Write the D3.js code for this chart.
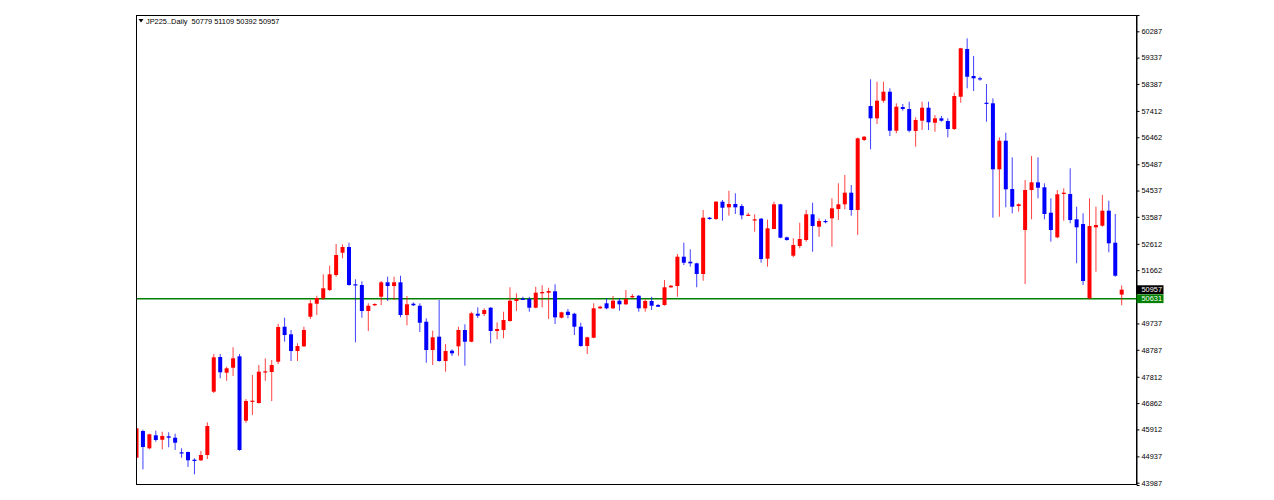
<!DOCTYPE html>
<html>
<head>
<meta charset="utf-8">
<script src="https://cdn.jsdelivr.net/npm/d3@7"></script>
<style>
  body { margin: 0; background: #fff; }
  svg { display: block; }
  text { font-family: "Liberation Sans", Arial, sans-serif; }
</style>
</head>
<body>
<div id="chart"></div>
<script>
// JP225 daily candles (oldest -> newest)
const symbolName = 'JP225..Daily';
const lastBar = [50779, 51109, 50392, 50957];
const levelPrice = 50631;

const opens = [44889,45854,45229,45698,45539,45662,45612,45084,45095,44817,44796,44987,47273,48526,47959,48139,48551,46226,46926,46865,
  47973,47984,48356,49620,49345,48742,48912,49981,50450,50645,50945,51487,52292,52498,51151,51126,50187,50393,50703,51223,
  51090,51223,50042,50450,50378,49800,48779,49259,48381,48753,48912,49501,49078,50089,50079,50306,49465,49501,49826,50548,
  50631,50620,50306,50826,50848,50898,49945,50161,50089,49620,48923,49223,50284,50465,50284,50559,50429,50681,50739,50284,
  50548,50403,50403,51043,51090,52148,51967,51909,51523,53556,53509,54134,53931,54051,53978,53643,53462,53520,52075,53148,
  54040,52848,52184,52534,52751,53679,53231,53437,53534,53870,54040,54459,53834,56362,57589,57145,57781,58106,56697,57553,
  57481,56687,57059,57528,56986,57145,57048,56759,57925,59648,58673,58590,57708,57687,55304,56336,54592,53978,53112,54556,
  54834,54654,53736,52848,54412,54412,53498,53328,50645,53209,53267,53809,52653,50779];
const highs = [46034,45900,45756,45864,45828,45807,45756,45229,45110,44868,45131,46168,48634,48634,48175,48876,48634,47009,47876,48237,
  48479,48417,49728,49945,49501,49020,49620,50584,50739,51512,51823,52606,52595,52653,51332,51259,50465,50465,51270,51425,
  51425,51461,50728,50501,50465,49923,49475,50584,48995,48804,49620,49706,50161,50320,50284,50330,49779,50161,51043,50826,
  50703,50703,51064,51115,51028,51151,50161,50259,50125,49764,49259,50465,50378,50645,50728,50645,50945,50801,50760,50620,
  50703,50440,51306,51126,52245,52653,52415,51930,53834,53581,54159,54195,54531,54437,54051,53736,53679,53545,53484,54134,
  54060,52870,52812,53375,53834,54097,53534,53498,54256,54798,55098,54737,56450,56506,58554,58467,58467,58229,57687,57662,
  57745,57181,57745,57745,57264,57228,57145,58070,59690,60034,59395,58647,58384,57867,56459,56625,55737,54076,54917,55784,
  55737,54798,54256,54556,54618,55340,53953,53715,54256,53953,54376,54170,53690,51109];
const lows = [44806,44471,45193,45467,45193,45265,45168,44889,44554,44290,44770,44842,47226,47757,47670,47840,45142,46153,46431,46840,
  47670,46937,48273,49078,48381,48381,48887,49898,50042,50584,50909,51425,52090,51100,49056,49945,49465,50367,50403,50548,
  50584,49959,49670,50367,49429,48320,48237,48356,47995,48562,48573,48212,49056,49934,50006,49020,49165,49201,49800,50187,
  50584,50161,50284,50320,49898,49717,49923,49923,49320,48898,48634,49201,50259,50248,50259,50198,50403,50645,50161,50161,
  50223,50331,50380,51017,50703,51848,51787,51043,51281,53484,53473,53448,53628,53690,53498,53628,53050,51931,51787,53137,
  52812,52725,52126,52451,52689,52328,52870,53354,52509,53473,53859,53628,52931,56326,56026,56939,57708,56506,56604,57420,
  56640,56120,56723,56723,56661,57022,56459,56723,57708,58229,58131,58503,57022,53556,53592,53931,53715,53773,51162,53498,
  54256,53498,52689,52812,53448,53354,51909,51126,50609,51606,53231,52306,51425,50392];
const closes = [45951,45276,45734,45529,45673,45612,45431,45048,44796,44770,44987,46034,48515,47973,48118,48479,45168,46937,46948,47995,
  48009,48237,49609,49320,48742,48923,49501,50465,50656,51006,51512,52209,52498,51126,51115,50187,50378,50440,51223,51090,
  51223,50042,50429,50393,49764,48779,49237,48381,48742,48659,49501,49078,50104,50017,50223,49465,49537,49862,50559,50620,
  50595,50306,50848,50873,50909,49959,50140,50042,49620,48923,49237,50284,50342,50284,50559,50429,50620,50728,50284,50548,
  50378,50342,51043,51100,52148,51931,51909,51523,53556,53509,54134,53917,54051,53931,53643,53664,53498,52064,53173,54040,
  52834,52751,52570,52787,53679,53256,53437,53401,53895,54040,54459,53834,56423,56481,57145,57781,58106,56697,57564,57481,
  56697,57084,57528,57001,57145,57059,56759,57950,59673,58647,58590,58554,57672,55304,56336,54581,53953,54040,54556,54834,
  54639,53690,53112,54401,54459,53473,53209,51270,53256,53292,53809,52631,51461,50957];

const priceTicks = [60287,59337,58387,57412,56462,55487,54537,53587,52612,51662,50687,49737,48787,47812,46862,45912,44937,43987];

const W = 1274, H = 500;
const plot = { left: 136, right: 1137, top: 15, bottom: 485 };
const UP = '#ff0000', DOWN = '#0000ff';

const svg = d3.select('#chart').append('svg').attr('width', W).attr('height', H);

const y = d3.scaleLinear().domain([43904, 60876]).range([plot.bottom, plot.top]);
const x = d3.scaleLinear().domain([0, opens.length - 1]).range([136.5, 1121.7]);

svg.append('clipPath').attr('id', 'clip').append('rect')
  .attr('x', plot.left).attr('y', plot.top)
  .attr('width', plot.right - plot.left).attr('height', plot.bottom - plot.top);

const g = svg.append('g').attr('clip-path', 'url(#clip)');

// level line
g.append('line')
  .attr('x1', plot.left).attr('x2', plot.right)
  .attr('y1', y(levelPrice)).attr('y2', y(levelPrice))
  .attr('stroke', '#008000').attr('stroke-width', 1.6);

const bars = d3.range(opens.length).map(i => ({ i, o: opens[i], h: highs[i], l: lows[i], c: closes[i] }));
const col = d => d.c >= d.o ? UP : DOWN;

g.selectAll('line.wick').data(bars).join('line').attr('class', 'wick')
  .attr('x1', d => x(d.i)).attr('x2', d => x(d.i))
  .attr('y1', d => y(d.h)).attr('y2', d => y(d.l))
  .attr('stroke', col).attr('stroke-width', 1).attr('stroke-opacity', 0.75);

g.selectAll('rect.body').data(bars).join('rect').attr('class', 'body')
  .attr('x', d => x(d.i) - 2).attr('width', 4)
  .attr('y', d => y(Math.max(d.o, d.c)))
  .attr('height', d => Math.max(1.2, Math.abs(y(d.o) - y(d.c))))
  .attr('fill', col);

// frame
svg.append('rect')
  .attr('x', plot.left + 0.5).attr('y', plot.top + 0.5)
  .attr('width', plot.right - plot.left - 1).attr('height', plot.bottom - plot.top - 1)
  .attr('fill', 'none').attr('stroke', '#000').attr('stroke-width', 1);

// price axis
const ax = svg.append('g').attr('transform', `translate(${plot.right - 0.5},0)`)
  .call(d3.axisRight(y).tickValues(priceTicks).tickSize(3).tickPadding(2).tickFormat(d3.format('d')));
ax.select('.domain').attr('stroke', '#000');
ax.selectAll('.tick line').attr('stroke', '#000');
ax.selectAll('text').attr('font-size', '7.4px').attr('font-family', '"Liberation Sans", Arial, sans-serif').attr('fill', '#000');

// current price / level price boxes
[[closes[closes.length - 1], '#000'], [levelPrice, '#008000']].forEach(([v, c]) => {
  svg.append('rect').attr('x', plot.right - 0.5).attr('y', y(v) - 4.4)
    .attr('width', 27).attr('height', 8.8).attr('fill', c);
  svg.append('text').attr('x', plot.right + 4.5).attr('y', y(v))
    .attr('dy', '0.35em').attr('font-size', '7.4px').attr('fill', '#fff').text(v);
});

// header
svg.append('path').attr('d', 'M138.5,19 L143.5,19 L141,22.5 Z').attr('fill', '#000');
svg.append('text').attr('x', 146).attr('y', 24)
  .attr('font-size', '7.4px').attr('fill', '#000')
  .attr('xml:space', 'preserve')
  .text(`${symbolName}  ${lastBar.join(' ')}`);
</script>
</body>
</html>
